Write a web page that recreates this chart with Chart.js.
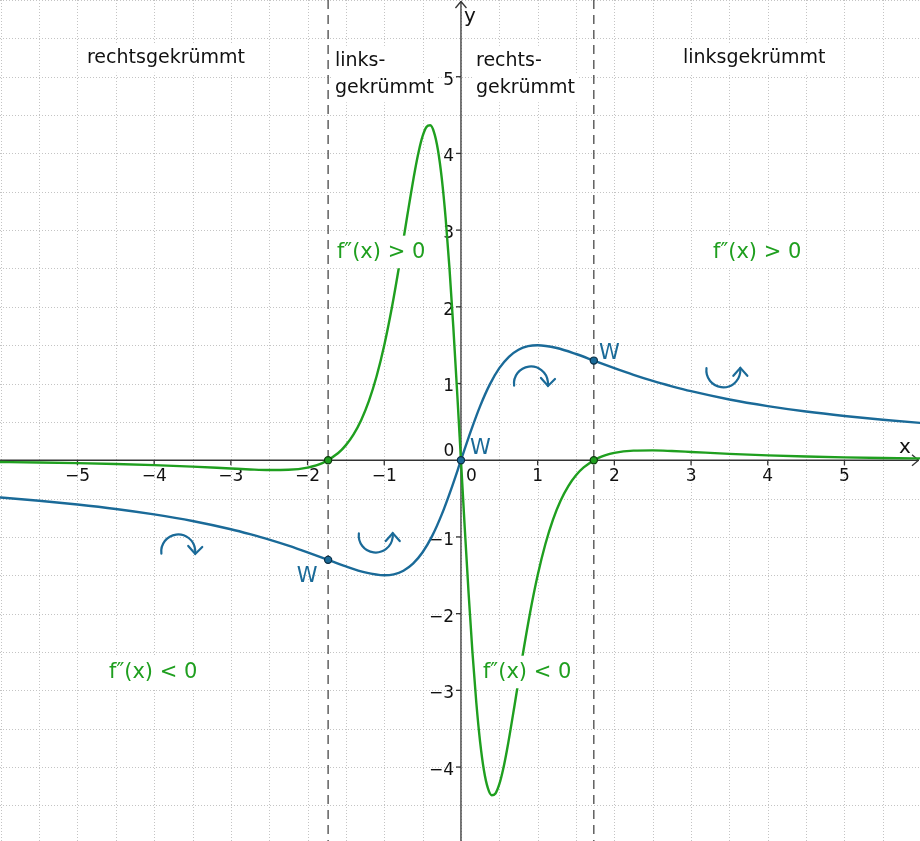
<!DOCTYPE html>
<html><head><meta charset="utf-8">
<script src="https://cdn.jsdelivr.net/npm/chart.js@4.4.1/dist/chart.umd.min.js"></script>
<style>html,body{margin:0;padding:0;background:#fff;}#wrap{width:920px;height:841px;position:relative;}</style>
</head><body><div id="wrap"><canvas id="c"></canvas></div>
<script>
// f(x) (blue)
const fX = [-6.1,-6,-5.5,-5,-4.5,-4,-3.5,-3,-2.75,-2.5,-2.25,-2,-1.75,-1.5,-1.25,-1,-0.875,-0.75,-0.625,-0.5,-0.375,-0.25,-0.125,0,
            0.125,0.25,0.375,0.5,0.625,0.75,0.875,1,1.25,1.5,1.75,2,2.25,2.5,2.75,3,3.5,4,4.5,5,5.5,6,6.1];
const fY = [-0.479,-0.486,-0.528,-0.577,-0.635,-0.706,-0.792,-0.9,-0.964,-1.034,-1.113,-1.2,-1.292,-1.385,-1.463,-1.5,-1.487,-1.44,-1.348,-1.2,-0.986,-0.706,-0.369,0,
            0.369,0.706,0.986,1.2,1.348,1.44,1.487,1.5,1.463,1.385,1.292,1.2,1.113,1.034,0.964,0.9,0.792,0.706,0.635,0.577,0.528,0.486,0.479];
// f''(x) (green)
const f2X = [-6.1,-6,-5.5,-5,-4.5,-4,-3.5,-3,-2.75,-2.5,-2.25,-2,-1.8,-1.6,-1.5,-1.4,-1.3,-1.2,-1.1,-1,-0.9,-0.8,-0.7,-0.6,-0.55,-0.5,-0.45,-0.4,-0.35,-0.3,-0.25,-0.2,-0.15,-0.1,-0.05,0,
             0.05,0.1,0.15,0.2,0.25,0.3,0.35,0.4,0.45,0.5,0.55,0.6,0.7,0.8,0.9,1,1.1,1.2,1.3,1.4,1.5,1.6,1.8,2,2.25,2.5,2.75,3,3.5,4,4.5,5,5.5,6,6.1];
const f2Y = [-0.0224,-0.0235,-0.0295,-0.0376,-0.0485,-0.0635,-0.0835,-0.108,-0.120,-0.128,-0.125,-0.096,-0.034,0.094,0.197,0.337,0.525,0.773,1.095,1.5,1.994,2.568,3.187,3.778,4.029,4.224,4.344,4.367,4.272,4.045,3.674,3.158,2.507,1.741,0.8925,0,
             -0.8925,-1.741,-2.507,-3.158,-3.674,-4.045,-4.272,-4.367,-4.344,-4.224,-4.029,-3.778,-3.187,-2.568,-1.994,-1.5,-1.095,-0.773,-0.525,-0.337,-0.197,-0.094,0.034,0.096,0.125,0.128,0.120,0.108,0.0835,0.0635,0.0485,0.0376,0.0295,0.0235,0.0224];
// inflection points of f (W) and zeros of f''
const wX = [-1.732, 0, 1.732];
const wY = [-1.299, 0, 1.299];
const zX = [-1.732, 1.732];
const zY = [0, 0];
const dashX = [-1.732, 1.732];
const xTicks = [-5,-4,-3,-2,-1,1,2,3,4,5];
const yTicks = [-4,-3,-2,-1,1,2,3,4,5];

const BLUE = '#1a6a98', GREEN = '#1f9f1f';
const FONT = '"DejaVu Sans", sans-serif';

const notes = [
  {t:'rechtsgekrümmt', x:-4.876, y:5.176, c:'#111', s:19},
  {t:'links-', x:-1.643, y:5.143, c:'#111', s:19},
  {t:'gekrümmt', x:-1.643, y:4.79, c:'#111', s:19},
  {t:'rechts-', x:0.196, y:5.143, c:'#111', s:19},
  {t:'gekrümmt', x:0.196, y:4.79, c:'#111', s:19},
  {t:'linksgekrümmt', x:2.894, y:5.176, c:'#111', s:19},
  {t:'f\u2033(x) > 0', x:-1.617, y:2.64, c:GREEN, s:21},
  {t:'f\u2033(x) > 0', x:3.286, y:2.64, c:GREEN, s:21},
  {t:'f\u2033(x) < 0', x:-4.589, y:-2.836, c:GREEN, s:21},
  {t:'f\u2033(x) < 0', x:0.287, y:-2.836, c:GREEN, s:21}
];
const wLabels = [{x:-2.14,y:-1.584},{x:0.117,y:0.08},{x:1.80,y:1.32}];
const arrows = [{x:-3.686,y:-1.189,k:'r'},{x:-1.111,y:-0.982,k:'l'},{x:0.913,y:1.001,k:'r'},{x:3.421,y:1.172,k:'l'}];

const fmt = v => v < 0 ? '\u2212' + Math.abs(v) : String(v);

const decor = {
  id: 'decor',
  beforeDatasetsDraw(chart) {
    const {ctx, chartArea: a, scales: {x, y}} = chart;
    const L = (x1,y1,x2,y2) => {ctx.beginPath(); ctx.moveTo(x1,y1); ctx.lineTo(x2,y2); ctx.stroke();};
    ctx.save();
    ctx.strokeStyle = '#c4c4c4'; ctx.lineWidth = 1; ctx.setLineDash([1,2]);
    for (let v = Math.ceil(x.min*2)/2; v <= x.max; v += 0.5) { const p = Math.round(x.getPixelForValue(v)) + 0.5; L(p,a.top,p,a.bottom); }
    for (let v = Math.ceil(y.min*2)/2; v <= y.max; v += 0.5) { const p = Math.round(y.getPixelForValue(v)) + 0.5; L(a.left,p,a.right,p); }
    ctx.strokeStyle = '#555'; ctx.lineWidth = 1.4; ctx.setLineDash([9,6]);
    for (const v of dashX) { const p = x.getPixelForValue(v); L(p,a.top,p,a.bottom); }
    ctx.setLineDash([]);
    const x0 = x.getPixelForValue(0), y0 = y.getPixelForValue(0);
    ctx.strokeStyle = '#333'; ctx.lineWidth = 1.3;
    L(a.left,y0,a.right-1,y0); L(x0,a.bottom,x0,a.top+1);
    // arrow heads
    L(a.right-8,y0-5.5,a.right-1.5,y0); L(a.right-8,y0+5.5,a.right-1.5,y0);
    L(x0-5.5,a.top+8,x0,a.top+1.5); L(x0+5.5,a.top+8,x0,a.top+1.5);
    for (const v of xTicks) { const p = x.getPixelForValue(v); L(p,y0,p,y0+5); }
    for (const v of yTicks) { const p = y.getPixelForValue(v); L(x0-5,p,x0,p); }
    ctx.fillStyle = '#111'; ctx.font = '17px ' + FONT; ctx.textBaseline = 'middle';
    ctx.textAlign = 'center';
    for (const v of xTicks) ctx.fillText(fmt(v), x.getPixelForValue(v), y0 + 16);
    ctx.fillText('0', x0 + 10.5, y0 + 16);
    ctx.textAlign = 'right';
    for (const v of yTicks) ctx.fillText(fmt(v), x0 - 7, y.getPixelForValue(v) + 3.5);
    ctx.textAlign = 'center';
    ctx.fillText('0', x0 - 12, y0 - 9);
    ctx.font = '20px ' + FONT;
    ctx.fillText('x', a.right - 15, y0 - 12);
    ctx.fillText('y', x0 + 9, a.top + 17);
    ctx.restore();
  },
  afterDatasetsDraw(chart) {
    const {ctx, scales: {x, y}} = chart;
    ctx.save();
    ctx.textAlign = 'left'; ctx.textBaseline = 'alphabetic';
    for (const n of notes) {
      ctx.font = n.s + 'px ' + FONT;
      const px = x.getPixelForValue(n.x), py = y.getPixelForValue(n.y);
      const m = ctx.measureText(n.t);
      ctx.fillStyle = '#fff';
      ctx.fillRect(px - 3, py - n.s * 1.05, m.width + 6, n.s * 1.55);
      ctx.fillStyle = n.c;
      ctx.fillText(n.t, px, py);
    }
    ctx.font = '21px ' + FONT; ctx.fillStyle = BLUE;
    for (const w of wLabels) ctx.fillText('W', x.getPixelForValue(w.x), y.getPixelForValue(w.y));
    ctx.strokeStyle = BLUE; ctx.lineWidth = 2.2; ctx.lineCap = 'round';
    const r = 17;
    for (const ar of arrows) {
      const cx = x.getPixelForValue(ar.x), cy = y.getPixelForValue(ar.y);
      ctx.beginPath();
      if (ar.k === 'r') {
        ctx.arc(cx, cy, r, Math.PI * 0.96, Math.PI * 2.04, false); ctx.stroke();
        const ax = cx + r, ay = cy + 2.5;
        ctx.beginPath(); ctx.moveTo(ax - 7, ay - 8); ctx.lineTo(ax, ay); ctx.lineTo(ax + 7, ay - 7); ctx.stroke();
      } else {
        ctx.arc(cx, cy, r, Math.PI * 1.04, -Math.PI * 0.04, true); ctx.stroke();
        const ax = cx + r, ay = cy - 2.5;
        ctx.beginPath(); ctx.moveTo(ax - 7, ay + 8); ctx.lineTo(ax, ay); ctx.lineTo(ax + 7, ay + 8); ctx.stroke();
      }
    }
    ctx.restore();
  }
};

const pts = (xs, ys) => xs.map((v, i) => ({x: v, y: ys[i]}));

new Chart(document.getElementById('c'), {
  type: 'line',
  data: {
    datasets: [
      {label:'W', data: pts(wX, wY), showLine:false, pointRadius:3.6, pointBackgroundColor:BLUE, pointBorderColor:'#0c2f45', pointBorderWidth:1.2, order:0},
      {label:'N', data: pts(zX, zY), showLine:false, pointRadius:3.6, pointBackgroundColor:GREEN, pointBorderColor:'#0d3d0d', pointBorderWidth:1.2, order:0},
      {label:"f''", data: pts(f2X, f2Y), borderColor:GREEN, borderWidth:2.4, pointRadius:0, cubicInterpolationMode:'monotone', fill:false, order:1},
      {label:'f', data: pts(fX, fY), borderColor:BLUE, borderWidth:2.4, pointRadius:0, cubicInterpolationMode:'monotone', fill:false, order:2}
    ]
  },
  options: {
    responsive: true, maintainAspectRatio: false, animation: false,
    layout: {padding: 0, autoPadding: false},
    scales: {
      x: {type:'linear', min:-6.01, max:5.985, display:false},
      y: {type:'linear', min:-4.964, max:6.0, display:false}
    },
    plugins: {legend:{display:false}, tooltip:{enabled:false}}
  },
  plugins: [decor]
});
</script></body></html>
